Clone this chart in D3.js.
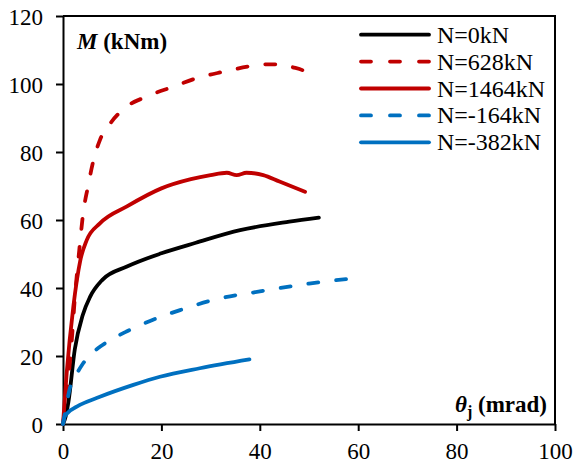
<!DOCTYPE html>
<meta charset="utf-8">
<style>
body { margin: 0; background: #fff; }
text { font-family: "Liberation Serif", "Times New Roman", serif; }
</style>
<body></body>
<script src="https://d3js.org/d3.v7.min.js"></script>
<script>
// rotation (mrad) vs moment (kNm)
const n0 = [[0,0],[0.5,2],[1.1,6.5],[2.4,22],[4,32],[5.5,37.4],[8,42.4],[13,46.3],[20,50.2],[27,53.3],[36,57],[46,59.5],[52,60.7]]
const n628 = [[0,0],[1,12],[1.8,25],[2.4,37],[3.3,51],[4.1,62],[5.1,70],[6.2,77.6],[7.5,83.5],[9.6,88.4],[12.9,93.3],[17,96.3],[22.4,99.2],[27.8,102],[32.6,103.6],[38.4,105.3],[42,105.8],[44.5,105.8],[46.5,105],[49,103.8],[50.7,101.7]]
const n1464 = [[0,0],[0.75,15],[2.1,34.5],[3.5,48],[4.8,54],[7.5,59],[13,64],[20,69.3],[26,72],[30,73.2],[33.3,73.9],[35.3,73.2],[37.3,73.9],[40.7,73.2],[44,71.3],[49.2,68.3]]
const nm164 = [[0,0],[0.5,4],[1.4,10.5],[2.5,14],[3.8,17.2],[5.5,20.3],[7.5,22.7],[10,25],[12.9,27.2],[17.7,30.3],[23.8,33.5],[30.6,36.5],[40,39],[50,41.3],[60,43]]
const nm382 = [[0,0],[0.3,2],[0.75,3],[2.8,5.1],[7.5,8],[14.3,11.5],[19.7,13.9],[27.8,16.4],[37.9,19]]

const seriesNames = ['N=0kN', 'N=628kN', 'N=1464kN', 'N=-164kN', 'N=-382kN']
const seriesData = [n0, n628, n1464, nm164, nm382]
const seriesColors = ['#000000', '#C00000', '#C00000', '#0070C0', '#0070C0']
const seriesDashed = [false, true, false, true, false]

const xTicks = [0, 20, 40, 60, 80, 100]
const yTicks = [0, 20, 40, 60, 80, 100, 120]

const width = 576
const height = 468
const margins = { top: 16, right: 21, bottom: 44, left: 63 }
const dash = '10,18'

const svg = d3.select('body').append('svg')
    .attr('width', width)
    .attr('height', height)

const g = svg.append('g')
    .attr('transform', `translate(${margins.left}, ${margins.top})`)

const w = width - margins.left - margins.right
const h = height - margins.top - margins.bottom

const xScale = d3.scaleLinear().domain([0, 100]).range([0, w])
const yScale = d3.scaleLinear().domain([0, 120]).range([h, 0])

// frame: top and right edges without ticks
g.append('path')
    .attr('d', `M0,0H${w}V${h}`)
    .attr('fill', 'none')
    .attr('stroke', '#000')
    .attr('stroke-width', 2)

const xAxis = g.append('g')
    .attr('transform', `translate(0, ${h})`)
    .call(d3.axisBottom(xScale).tickValues(xTicks).tickSize(7).tickPadding(12).tickSizeOuter(0))
const yAxis = g.append('g')
    .call(d3.axisLeft(yScale).tickValues(yTicks).tickSize(7).tickPadding(13).tickSizeOuter(0))

for (const ax of [xAxis, yAxis]) {
    ax.select('.domain').attr('stroke-width', 2)
    ax.selectAll('.tick line').attr('stroke-width', 2)
    ax.selectAll('.tick text')
        .attr('font-family', '"Liberation Serif", serif')
        .attr('font-size', 23)
        .attr('fill', '#000')
}
yAxis.selectAll('.tick text').attr('dy', '0.35em')

const line = d3.line()
    .x(d => xScale(d[0]))
    .y(d => yScale(d[1]))
    .curve(d3.curveMonotoneX)

seriesData.forEach((data, i) => {
    g.append('path')
        .datum(data)
        .attr('d', line)
        .attr('fill', 'none')
        .attr('stroke', seriesColors[i])
        .attr('stroke-width', 3.8)
        .attr('stroke-linecap', 'round')
        .attr('stroke-linejoin', 'round')
        .attr('stroke-dasharray', seriesDashed[i] ? dash : null)
})

// legend
const legend = svg.append('g')
seriesNames.forEach((name, i) => {
    const y = 34.7 + i * 26.9
    legend.append('line')
        .attr('x1', 361).attr('x2', 429)
        .attr('y1', y).attr('y2', y)
        .attr('stroke', seriesColors[i])
        .attr('stroke-width', 3.8)
        .attr('stroke-linecap', 'round')
        .attr('stroke-dasharray', seriesDashed[i] ? '10,19' : null)
    legend.append('text')
        .attr('x', 437)
        .attr('y', y + 8)
        .attr('font-size', 24)
        .text(name)
})

// axis titles
svg.append('text')
    .attr('x', 77).attr('y', 49)
    .attr('font-size', 23)
    .attr('font-weight', 'bold')
    .call(t => {
        t.append('tspan').attr('font-style', 'italic').text('M')
        t.append('tspan').text(' (kNm)')
    })

svg.append('text')
    .attr('x', 547).attr('y', 412)
    .attr('text-anchor', 'end')
    .attr('font-size', 23)
    .attr('font-weight', 'bold')
    .call(t => {
        t.append('tspan').attr('font-style', 'italic').text('θ')
        t.append('tspan').attr('font-size', 16).attr('dy', 5).text('j')
        t.append('tspan').attr('dy', -5).text(' (mrad)')
    })
</script>
